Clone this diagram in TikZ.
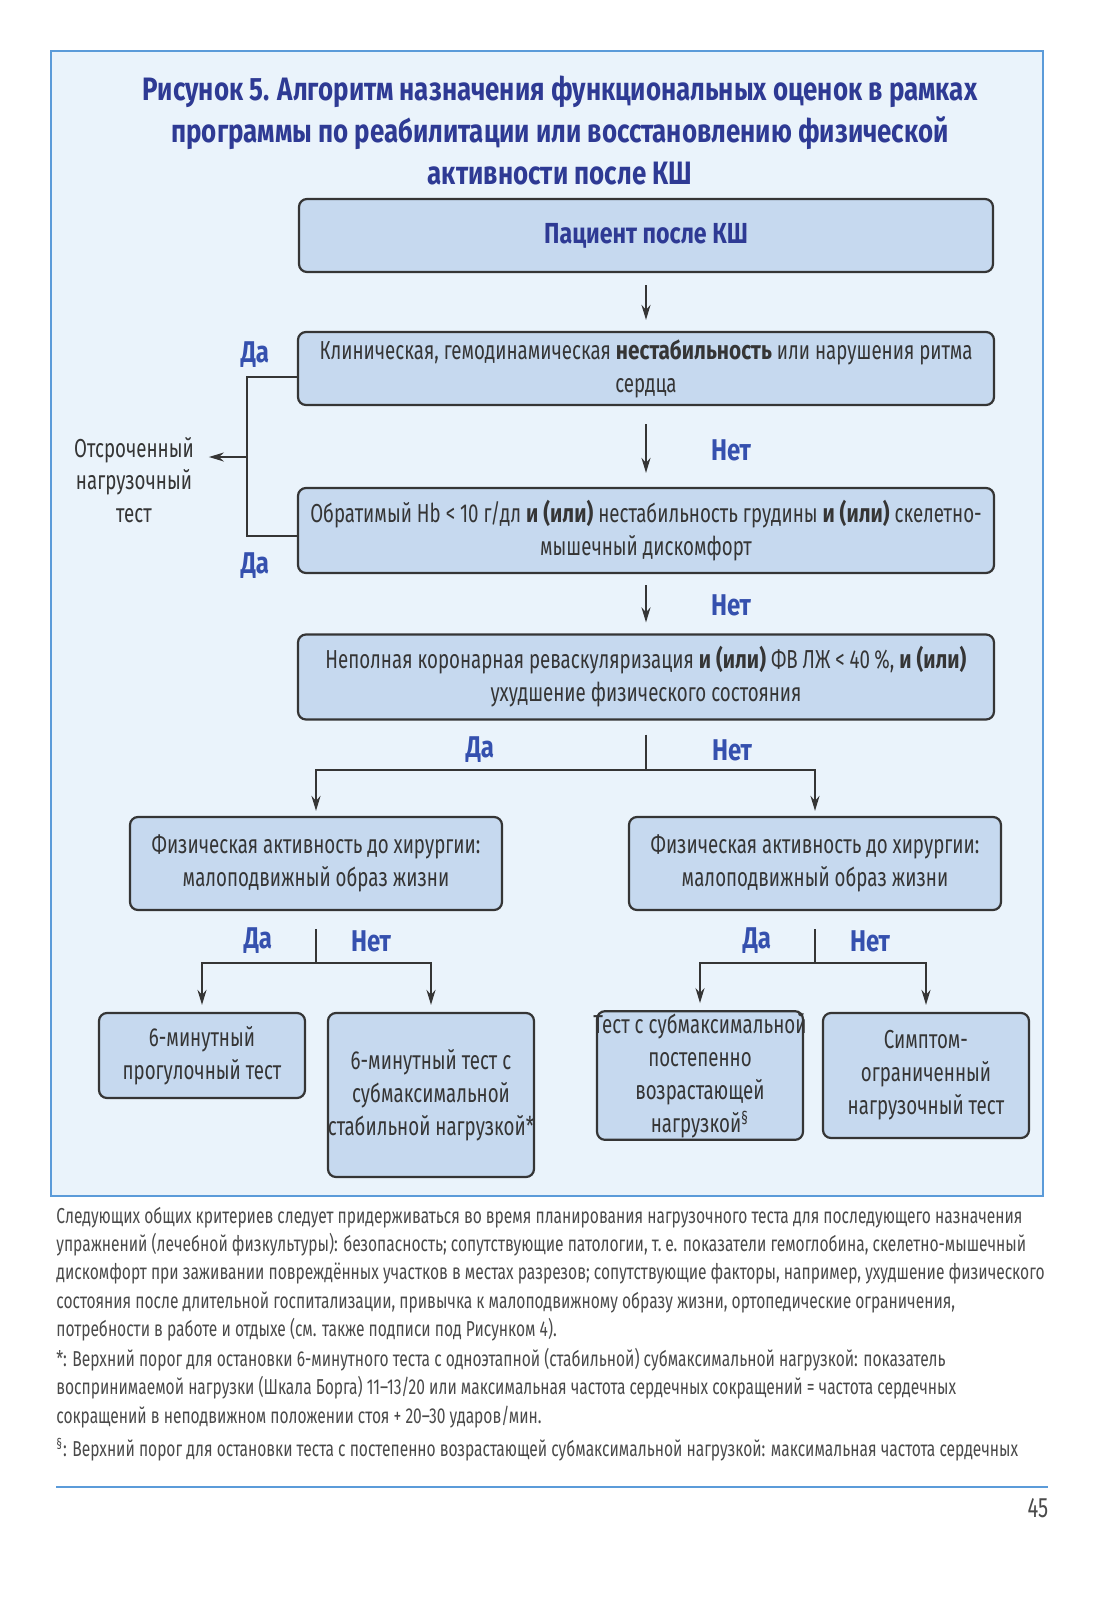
\documentclass[tikz,border=0pt]{standalone}
\usepackage{fontspec}
\setmainfont{Fira Sans}[FakeStretch=0.72,BoldFeatures={FakeStretch=0.8}]
\usetikzlibrary{arrows.meta}
\definecolor{pageblue}{HTML}{EAF3FB}
\definecolor{frameblue}{HTML}{5B9BD9}
\definecolor{boxblue}{HTML}{C6D9EF}
\definecolor{titleblue}{HTML}{2E3A94}
\definecolor{labblue}{HTML}{3550AE}
\definecolor{txtgray}{HTML}{353535}
\definecolor{notegray}{HTML}{4A4A4A}

\begin{document}
\begin{tikzpicture}[x=0.5pt,y=-0.5pt,>={Stealth[length=7.5pt,width=4.5pt]},
  box/.style={draw=txtgray,line width=1.1pt,rounded corners=4pt,fill=boxblue,align=center,
    text=txtgray,font=\fontsize{13}{16.5}\selectfont,inner sep=1pt},
  lbl/.style={text=labblue,font=\bfseries\fontsize{15}{18}\selectfont},
  wire/.style={line width=1pt,draw=txtgray},
  arr/.style={->,line width=1pt,draw=txtgray},
  note/.style={anchor=west,align=left,text=notegray,font=\fontsize{10.8}{14.2}\selectfont,inner sep=0pt}]
  \useasboundingbox (0,0) rectangle (1106,1600);
  \draw[frameblue,fill=pageblue,line width=1pt] (51,51) rectangle (1043,1196);

  \node[align=center,text=titleblue,font=\bfseries\fontsize{16.2}{21}\selectfont] (title) at (560,130)
    {Рисунок 5. Алгоритм назначения функциональных оценок в рамках\\
     программы по реабилитации или восстановлению физической\\
     активности после КШ};

  \node[box,minimum width=347pt,minimum height=36.5pt,text=titleblue,font=\bfseries\fontsize{14.5}{17}\selectfont] (pat) at (646,235.5) {Пациент после КШ};
  \node[box,minimum width=348pt,minimum height=36.5pt] (unstab) at (646,368.5)
    {Клиническая, гемодинамическая \textbf{нестабильность} или нарушения ритма\\сердца};
  \node[box,minimum width=348pt,minimum height=42.5pt] (hb) at (646,530.5)
    {Обратимый Hb < 10 г/дл \textbf{и (или)} нестабильность грудины \textbf{и (или)} скелетно-\\мышечный дискомфорт};
  \node[box,minimum width=348pt,minimum height=42.5pt] (revasc) at (646,677)
    {Неполная коронарная реваскуляризация \textbf{и (или)} ФВ ЛЖ < 40\,\%, \textbf{и (или)}\\ухудшение физического состояния};
  \node[box,minimum width=186pt,minimum height=46.5pt] (actL) at (316,863.5)
    {Физическая активность до хирургии:\\малоподвижный образ жизни};
  \node[box,minimum width=186pt,minimum height=46.5pt] (actR) at (815,863.5)
    {Физическая активность до хирургии:\\малоподвижный образ жизни};
  \node[box,minimum width=103pt,minimum height=42.5pt] (walk) at (202,1055.5)
    {6-минутный\\прогулочный тест};
  \node[box,minimum width=103pt,minimum height=82pt] (stable) at (431,1095)
    {6-минутный тест с\\субмаксимальной\\\makebox[0pt]{стабильной нагрузкой*}};
  \node[box,minimum width=103pt,minimum height=62.5pt] (ramp) at (700,1075.5)
    {\makebox[0pt]{Тест с субмаксимальной}\\постепенно\\возрастающей\\нагрузкой\textsuperscript{\S}};
  \node[box,minimum width=103pt,minimum height=62.5pt] (symp) at (926,1075.5)
    {Симптом-\\ограниченный\\нагрузочный тест};

  \node[align=center,text=txtgray,font=\fontsize{13}{16.25}\selectfont] (late) at (134,480)
    {Отсроченный\\нагрузочный\\тест};

  % main column
  \draw[arr,shorten <=6pt,shorten >=5.5pt] (pat) -- (unstab);
  \draw[arr,shorten <=9pt,shorten >=7pt] (unstab) -- (hb);
  \draw[arr,shorten <=5.5pt,shorten >=5.5pt] (hb) -- (revasc);
  \node[lbl] (no1) at (731,450) {Нет};
  \node[lbl] (no2) at (731,605) {Нет};

  % bracket to the left
  \coordinate (brT) at (247,377);
  \coordinate (brB) at (247,536);
  \coordinate (brM) at (247,457);
  \draw[wire] (unstab.west |- brT) -- (brT) -- (brB) -- (hb.west |- brB);
  \draw[arr,shorten >=4pt] (brM) -- (brM -| late.east);
  \node[lbl] (yes1) at (255,355) {Да};
  \node[lbl] (yes2) at (255,566) {Да};

  % first split
  \coordinate (j3) at (646,770);
  \draw[wire,shorten <=7pt] (revasc) -- (j3);
  \draw[arr,shorten >=2.5pt] (j3) -| (actL);
  \draw[arr,shorten >=2.5pt] (j3) -| (actR);
  \node[lbl] (yes3) at (480,750) {Да};
  \node[lbl] (no3) at (732,750) {Нет};

  % lower splits
  \coordinate (jL) at (316,963);
  \draw[wire,shorten <=9pt] (actL) -- (jL);
  \draw[arr,shorten >=3.5pt] (jL) -| (walk);
  \draw[arr,shorten >=3.5pt] (jL) -| (stable);
  \node[lbl] (yes4) at (258,941) {Да};
  \node[lbl] (no4) at (371,941) {Нет};

  \coordinate (jR) at (815,963);
  \draw[wire,shorten <=9pt] (actR) -- (jR);
  \draw[arr,shorten >=3.5pt] (jR) -| (ramp);
  \draw[arr,shorten >=3.5pt] (jR) -| (symp);
  \node[lbl] (yes5) at (757,941) {Да};
  \node[lbl] (no5) at (870,941) {Нет};

  % notes under the figure
  \node[note] (note1) at (56,1274)
    {Следующих общих критериев следует придерживаться во время планирования нагрузочного теста для последующего назначения\\
     упражнений (лечебной физкультуры): безопасность; сопутствующие патологии, т.\,е. показатели гемоглобина, скелетно-мышечный\\
     дискомфорт при заживании повреждённых участков в местах разрезов; сопутствующие факторы, например, ухудшение физического\\
     состояния после длительной госпитализации, привычка к малоподвижному образу жизни, ортопедические ограничения,\\
     потребности в работе и отдыхе (см. также подписи под Рисунком 4).};
  \node[note] (note2) at (56,1388)
    {*: Верхний порог для остановки 6-минутного теста с одноэтапной (стабильной) субмаксимальной нагрузкой: показатель\\
     воспринимаемой нагрузки (Шкала Борга) 11–13/20 или максимальная частота сердечных сокращений = частота сердечных\\
     сокращений в неподвижном положении стоя + 20–30 ударов/мин.};
  \node[note] (note3) at (56,1450)
    {\textsuperscript{\S}: Верхний порог для остановки теста с постепенно возрастающей субмаксимальной нагрузкой: максимальная частота сердечных};

  \draw[frameblue,line width=1pt] (56,1487) -- (1048,1487);
  \node[text=notegray,font=\fontsize{14}{16}\selectfont] (pnum) at (1038,1508) {45};
\end{tikzpicture}
\end{document}
